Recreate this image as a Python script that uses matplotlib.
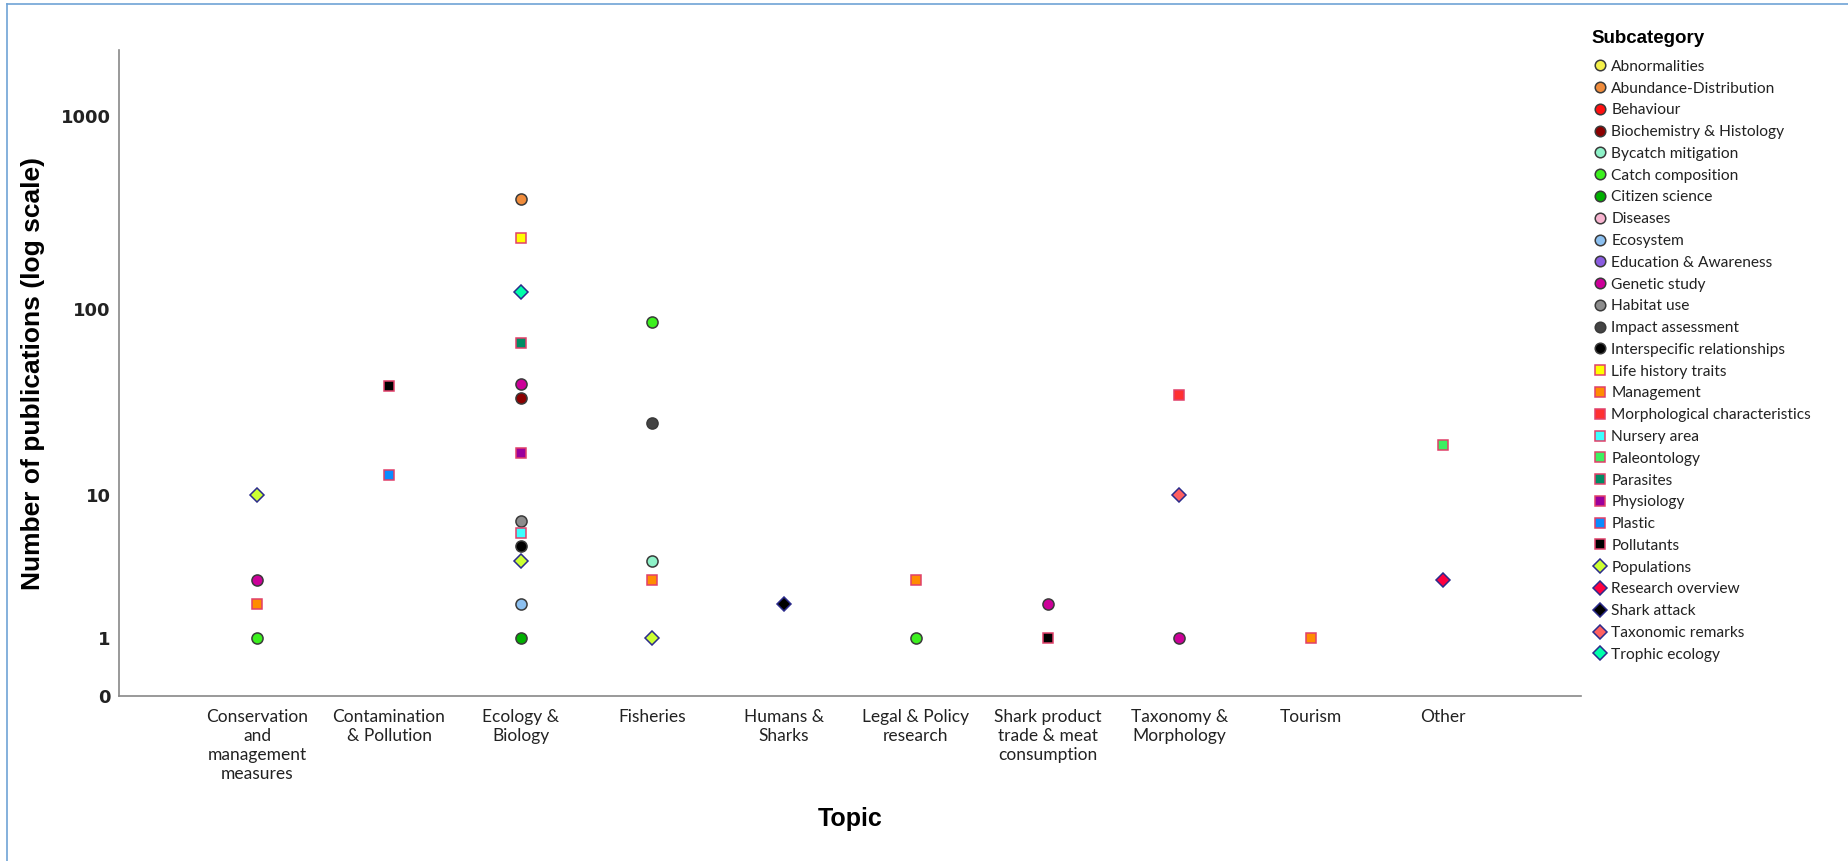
import numpy as np
import matplotlib
matplotlib.use("Agg")
import matplotlib.pyplot as plt
from matplotlib.lines import Line2D

# topics on the x axis
topics = [
    "Conservation\nand\nmanagement\nmeasures",
    "Contamination\n& Pollution",
    "Ecology &\nBiology",
    "Fisheries",
    "Humans &\nSharks",
    "Legal & Policy\nresearch",
    "Shark product\ntrade & meat\nconsumption",
    "Taxonomy &\nMorphology",
    "Tourism",
    "Other",
]

subcategories = [
    "Abnormalities", "Abundance-Distribution", "Behaviour",
    "Biochemistry & Histology", "Bycatch mitigation", "Catch composition",
    "Citizen science", "Diseases", "Ecosystem", "Education & Awareness",
    "Genetic study", "Habitat use", "Impact assessment",
    "Interspecific relationships", "Life history traits", "Management",
    "Morphological characteristics", "Nursery area", "Paleontology",
    "Parasites", "Physiology", "Plastic", "Pollutants", "Populations",
    "Research overview", "Shark attack", "Taxonomic remarks", "Trophic ecology",
]

# one entry per point: topic index, subcategory, number of publications
point_topic = [
    0, 0, 0, 0,
    1, 1,
    2, 2, 2, 2, 2, 2, 2, 2, 2, 2, 2, 2, 2,
    3, 3, 3, 3, 3,
    4,
    5, 5,
    6, 6,
    7, 7, 7,
    8,
    9, 9,
]
point_subcat = [
    "Populations", "Genetic study", "Management", "Catch composition",
    "Pollutants", "Plastic",
    "Abundance-Distribution", "Life history traits", "Trophic ecology",
    "Parasites", "Genetic study", "Biochemistry & Histology", "Physiology",
    "Habitat use", "Nursery area", "Interspecific relationships",
    "Populations", "Ecosystem", "Citizen science",
    "Catch composition", "Impact assessment", "Bycatch mitigation",
    "Management", "Populations",
    "Shark attack",
    "Management", "Catch composition",
    "Genetic study", "Pollutants",
    "Morphological characteristics", "Taxonomic remarks", "Genetic study",
    "Management",
    "Paleontology", "Research overview",
]
point_count = [
    10, 3, 2, 1,
    39, 13,
    370, 234, 122, 66, 40, 34, 17, 7, 6, 5, 4, 2, 1,
    85, 25, 4, 3, 1,
    2,
    3, 1,
    2, 1,
    35, 10, 1,
    1,
    19, 3,
]

# marker style per subcategory
circle_edge = "#3a3a3a"
square_edge = "#e0406a"
diamond_edge = "#2b2b8c"
styles = {
    "Abnormalities": ("o", "#f4f04a"),
    "Abundance-Distribution": ("o", "#f08c3c"),
    "Behaviour": ("o", "#ff1010"),
    "Biochemistry & Histology": ("o", "#8b0000"),
    "Bycatch mitigation": ("o", "#8ef2c8"),
    "Catch composition": ("o", "#3cf01e"),
    "Citizen science": ("o", "#00b000"),
    "Diseases": ("o", "#f8b4d0"),
    "Ecosystem": ("o", "#8cc0f0"),
    "Education & Awareness": ("o", "#8a5ce0"),
    "Genetic study": ("o", "#cc0099"),
    "Habitat use": ("o", "#8c8c8c"),
    "Impact assessment": ("o", "#444444"),
    "Interspecific relationships": ("o", "#000000"),
    "Life history traits": ("s", "#ffff00"),
    "Management": ("s", "#ff8c00"),
    "Morphological characteristics": ("s", "#ff3030"),
    "Nursery area": ("s", "#3cffff"),
    "Paleontology": ("s", "#3cf060"),
    "Parasites": ("s", "#008c64"),
    "Physiology": ("s", "#99009c"),
    "Plastic": ("s", "#0a8cff"),
    "Pollutants": ("s", "#000000"),
    "Populations": ("D", "#ccff33"),
    "Research overview": ("D", "#ff0040"),
    "Shark attack": ("D", "#000000"),
    "Taxonomic remarks": ("D", "#ff6060"),
    "Trophic ecology": ("D", "#00ffaa"),
}
edges = {"o": circle_edge, "s": square_edge, "D": diamond_edge}
sizes = {"o": 8.0, "s": 7.6, "D": 7.6}

label_font = ["Lato", "DejaVu Sans"]
bold_font = ["Liberation Sans Narrow", "Liberation Sans"]

fig = plt.figure(figsize=(18.49, 8.61), dpi=100)
ax = fig.add_axes([0.0644, 0.1916, 0.7906, 0.7503])

ax.set_yscale(
    "function",
    functions=(lambda y: np.log10(np.clip(y, 0, None) + 1),
               lambda y: 10 ** y - 1),
)

for sub in subcategories:
    idx = [i for i, s in enumerate(point_subcat) if s == sub]
    if not idx:
        continue
    marker, color = styles[sub]
    ax.plot(
        [point_topic[i] for i in idx],
        [point_count[i] for i in idx],
        linestyle="none",
        marker=marker,
        markersize=sizes[marker],
        markerfacecolor=color,
        markeredgecolor=edges[marker],
        markeredgewidth=1.1,
        zorder=3,
    )

ax.set_xlim(-1.05, 10.05)
ax.set_ylim(0, 2200)
ax.set_yticks([0, 1, 10, 100, 1000])
ax.set_yticklabels(["0", "1", "10", "100", "1000"])
ax.set_xticks(range(len(topics)))
ax.set_xticklabels(topics, family=label_font, fontsize=12.5,
                   color="#222222", linespacing=1.25, va="top")
for t in ax.get_yticklabels():
    t.set_fontsize(13)
    t.set_color("#222222")
    t.set_family("DejaVu Sans")
    t.set_fontweight("bold")
ax.tick_params(axis="both", length=0)
ax.tick_params(axis="x", pad=9)
ax.tick_params(axis="y", pad=6)

for side in ("top", "right"):
    ax.spines[side].set_visible(False)
for side in ("left", "bottom"):
    ax.spines[side].set_color("#888888")
    ax.spines[side].set_linewidth(1.2)

ax.set_ylabel("Number of publications (log scale)", fontsize=19,
              fontweight="bold", family=bold_font, labelpad=11)
ax.set_xlabel("Topic", fontsize=18, fontweight="bold",
              family=bold_font, labelpad=18)

handles = []
for sub in subcategories:
    marker, color = styles[sub]
    handles.append(Line2D(
        [], [], linestyle="none", marker=marker,
        markersize=sizes[marker] - 0.4,
        markerfacecolor=color, markeredgecolor=edges[marker],
        markeredgewidth=1.1, label=sub,
    ))

leg = fig.legend(
    handles=handles,
    title="Subcategory",
    loc="upper left",
    bbox_to_anchor=(0.8575, 0.972),
    frameon=False,
    prop={"family": label_font, "size": 11.2},
    title_fontproperties={"family": ["Liberation Sans"], "size": 13.5,
                          "weight": "bold"},
    handletextpad=0.25,
    handlelength=1.0,
    labelspacing=0.5,
    borderaxespad=0,
)
leg._legend_box.align = "left"
leg._legend_box.sep = 9
for txt in leg.get_texts():
    txt.set_color("#222222")

# thin frame lines at the top and left of the picture
fig.add_artist(Line2D([0.004, 1.0], [0.995, 0.995], color="#6fa3d6",
                      linewidth=1.2, transform=fig.transFigure))
fig.add_artist(Line2D([0.004, 0.004], [0.0, 0.995], color="#6fa3d6",
                      linewidth=1.2, transform=fig.transFigure))

fig.savefig("out.png", dpi=100)
